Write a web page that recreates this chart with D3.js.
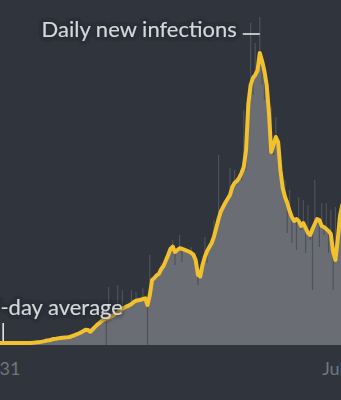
<!DOCTYPE html>
<html>
<head>
<meta charset="utf-8">
<script src="https://cdn.jsdelivr.net/npm/d3@7"></script>
<style>
  html, body { margin: 0; padding: 0; background: #2f343d; }
  svg { display: block; }
</style>
</head>
<body>
<div id="chart"></div>
<script>
var id = '#chart'

// 7-day average, one value per day starting Jan 31
var avgValues = [
  2, 2, 2, 2, 2, 2, 2, 2, 2, 2, 2, 2, 2, 2, 2, 2,
  2, 2.3, 2.5, 2.8, 3, 3.4, 3.9, 4.5, 4.8, 5.3, 6, 6.2, 6.6, 7, 7.3,
  7.5, 7.7, 8, 8.8, 9.7, 10.6, 11.5, 12.6, 13.9, 15.2, 15.1, 13.2, 15.5, 17.8, 20.1, 22, 24,
  25.4, 26.5, 27.4, 28.5, 29.8, 31.1, 32.6, 34.5, 36.4, 37.4, 38.7, 39.7, 41, 43, 44.2, 44.7,
  45.2, 46, 46.7, 40, 50, 65, 67, 69.7, 71.4, 76, 79, 84.6, 90, 96, 98.4, 93,
  95, 96.7, 96.2, 95.3, 94.4, 93.5, 92.2, 90.4, 85, 70.4, 68.5, 80, 88, 94, 98, 102,
  108.4, 117, 126, 133.6, 138, 142.5, 146.3, 150, 158, 162, 164, 167.2, 172, 178, 195, 241,
  260, 267, 270, 274.5, 292, 284, 274, 260, 232, 193, 200, 208, 203, 175, 157, 148,
  142, 134, 128, 124, 126, 124, 119, 122, 117, 112, 110, 116, 121, 126, 125, 119,
  118, 116, 114, 111, 93, 85, 105, 129, 140
]

// daily new infections
var dailyValues = [
  1, 3, 2, 1, 2, 3, 1, 2, 2, 1, 3, 2, 1, 2, 2, 3,
  2, 3, 2, 4, 3, 4, 5, 4, 6, 5, 7, 6, 8, 7, 8,
  7, 9, 8, 10, 9, 12, 11, 14, 13, 17, 14, 10, 18, 19, 22, 24, 26,
  30, 0, 58, 28, 31, 30, 60, 33, 55, 36, 40, 38, 55, 42, 53, 44,
  47, 57, 45, 0, 90, 66, 70, 68, 74, 82, 77, 88, 92, 97, 105, 80,
  97, 110, 83, 97, 96, 92, 98, 88, 87, 60, 72, 82, 108, 82, 100, 105,
  125, 115, 190, 135, 140, 138, 150, 177, 155, 175, 160, 168, 165, 235, 175, 230,
  322, 250, 302, 270, 328, 260, 245, 255, 225, 238, 190, 228, 195, 170, 150, 165,
  112, 155, 102, 128, 95, 148, 115, 145, 92, 140, 105, 55, 165, 120, 98, 142,
  110, 142, 92, 135, 55, 138, 100, 135, 145
]

var tickDates = [new Date(Date.UTC(2021, 0, 31)), new Date(Date.UTC(2021, 6, 1))]
var titleLabel = 'Daily new infections'
var avgLabel = '7-day average'

var cfg = {
  w: 341,
  h: 400,
  baseline: 345,
  top: 45,
  bg: '#2f343d',
  area: '#6a6d73',
  spike: '#4e525a',
  line: '#f2c12e',
  text: '#d3d6da',
  axisText: '#72767e',
  font: 'Lato, "Noto Sans", sans-serif'
}

var data = avgValues.map(function(a, i) {
  return {date: d3.utcDay.offset(tickDates[0], i), avg: a, daily: dailyValues[i]}
})

var x = d3.scaleUtc()
  .domain(tickDates)
  .range([-6, 340])

var y = d3.scaleLinear()
  .domain([0, 300])
  .range([cfg.baseline, cfg.top])

var svg = d3.select(id).append('svg')
  .attr('width', cfg.w)
  .attr('height', cfg.h)

svg.append('rect')
  .attr('width', cfg.w)
  .attr('height', cfg.h)
  .attr('fill', cfg.bg)

// dark halo behind labels
var filter = svg.append('defs').append('filter').attr('id', 'halo')
  .attr('x', '-10%').attr('y', '-30%').attr('width', '120%').attr('height', '160%')
filter.append('feGaussianBlur').attr('in', 'SourceAlpha').attr('stdDeviation', 2.5).attr('result', 'blur')
filter.append('feFlood').attr('flood-color', '#262a31').attr('result', 'col')
filter.append('feComposite').attr('in', 'col').attr('in2', 'blur').attr('operator', 'in').attr('result', 'shadow')
var feMerge = filter.append('feMerge')
feMerge.append('feMergeNode').attr('in', 'shadow')
feMerge.append('feMergeNode').attr('in', 'shadow')
feMerge.append('feMergeNode').attr('in', 'SourceGraphic')

var area = d3.area()
  .x(d => x(d.date))
  .y0(y(0))
  .y1(d => y(d.avg))

svg.append('path')
  .datum(data)
  .attr('d', area)
  .attr('fill', cfg.area)

// each day drawn as a thin stroke between the average and the daily count
svg.append('g').selectAll('line')
  .data(data)
  .enter()
  .append('line')
  .attr('x1', d => x(d.date))
  .attr('x2', d => x(d.date))
  .attr('y1', d => y(d.avg))
  .attr('y2', d => y(d.daily))
  .attr('stroke', cfg.spike)
  .attr('stroke-width', 1.2)

var line = d3.line()
  .x(d => x(d.date))
  .y(d => y(d.avg))

svg.append('path')
  .datum(data)
  .attr('d', line)
  .attr('fill', 'none')
  .attr('stroke', cfg.line)
  .attr('stroke-width', 4)
  .attr('stroke-linejoin', 'round')
  .attr('stroke-linecap', 'round')

// x axis
var axis = svg.append('g')
  .attr('transform', 'translate(0,' + cfg.baseline + ')')
  .call(d3.axisBottom(x).tickValues(tickDates).tickFormat(d3.utcFormat('%b %-d')).tickSize(0).tickPadding(17))
axis.select('.domain').remove()
axis.selectAll('text')
  .attr('fill', cfg.axisText)
  .style('font-family', cfg.font)
  .style('font-size', '18px')

// annotations
var peak = data[d3.maxIndex(data, d => d.daily)]
svg.append('line')
  .attr('x1', x(peak.date) - 17)
  .attr('x2', x(peak.date))
  .attr('y1', 34)
  .attr('y2', 34)
  .attr('stroke', '#f0f0f0')
  .attr('stroke-width', 1.5)

svg.append('text')
  .attr('x', x(peak.date) - 23)
  .attr('y', 37)
  .attr('text-anchor', 'end')
  .attr('fill', cfg.text)
  .style('font-family', cfg.font)
  .style('font-size', '22px')
  .style('filter', 'url(#halo)')
  .text(titleLabel)

var mark = data[4]
svg.append('line')
  .attr('x1', x(mark.date))
  .attr('x2', x(mark.date))
  .attr('y1', y(mark.avg) - 2)
  .attr('y2', 323)
  .attr('stroke', '#f0f0f0')
  .attr('stroke-width', 1.5)

svg.append('text')
  .attr('x', 123)
  .attr('y', 315)
  .attr('text-anchor', 'end')
  .attr('fill', cfg.text)
  .style('font-family', cfg.font)
  .style('font-size', '22px')
  .style('filter', 'url(#halo)')
  .text(avgLabel)
</script>
</body>
</html>
